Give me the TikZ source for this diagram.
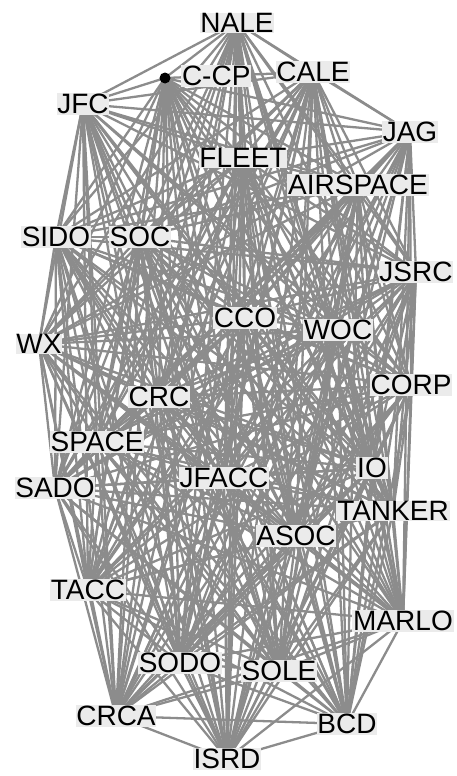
\documentclass[tikz,border=0pt]{standalone}
\usepackage{fontspec}
\setmainfont{Liberation Sans}
\pgfdeclarelayer{bg}
\pgfsetlayers{bg,main}
\definecolor{edgegray}{HTML}{8C8C8C}
\definecolor{labelbg}{HTML}{EBEBEB}
\tikzset{
  lbl/.style={fill=labelbg, inner sep=0.8pt, font=\fontsize{28}{30}\selectfont, text=black},
  edge/.style={draw=edgegray, line width=2.3pt},
  dotnode/.style={circle, fill=black, inner sep=0pt, minimum size=11pt}
}
\begin{document}
\begin{tikzpicture}[x=1pt,y=-1pt]
\useasboundingbox (0,0) rectangle (457,776);
\node[lbl] (NALE) at (237,23) {NALE};
\node[dotnode] (CCP) at (165,78) {};
\node[lbl, anchor=west] (CCPl) at (181,76) {C-CP};
\node[lbl] (CALE) at (313,72) {CALE};
\node[lbl] (JFC) at (83,104) {JFC};
\node[lbl] (JAG) at (410,132) {JAG};
\node[lbl] (FLEET) at (243,158) {FLEET};
\node[lbl] (AIRSPACE) at (358,185) {AIRSPACE};
\node[lbl] (SIDO) at (56,237) {SIDO};
\node[lbl] (SOC) at (140,237) {SOC};
\node[lbl] (JSRC) at (416,272) {JSRC};
\node[lbl] (CCO) at (245,318) {CCO};
\node[lbl] (WOC) at (338,330) {WOC};
\node[lbl] (WX) at (39,344) {WX};
\node[lbl] (CORP) at (411,385) {CORP};
\node[lbl] (CRC) at (159,397) {CRC};
\node[lbl] (SPACE) at (97,442) {SPACE};
\node[lbl] (IO) at (372,468) {IO};
\node[lbl] (JFACC) at (224,478) {JFACC};
\node[lbl] (SADO) at (55,488) {SADO};
\node[lbl] (TANKER) at (393,511) {TANKER};
\node[lbl] (ASOC) at (296,536) {ASOC};
\node[lbl] (TACC) at (88,590) {TACC};
\node[lbl] (MARLO) at (403,621) {MARLO};
\node[lbl] (SODO) at (180,663) {SODO};
\node[lbl] (SOLE) at (279,671) {SOLE};
\node[lbl] (CRCA) at (116,716) {CRCA};
\node[lbl] (BCD) at (347,724) {BCD};
\node[lbl] (ISRD) at (227,759) {ISRD};
\begin{pgfonlayer}{bg}
\foreach \a [count=\i] in {NALE,CCP,CALE,JFC,JAG,FLEET,AIRSPACE,SIDO,SOC,JSRC,CCO,WOC,WX,CORP,CRC,SPACE,IO,JFACC,SADO,TANKER,ASOC,TACC,MARLO,SODO,SOLE,CRCA,BCD,ISRD} {
  \foreach \b [count=\j] in {NALE,CCP,CALE,JFC,JAG,FLEET,AIRSPACE,SIDO,SOC,JSRC,CCO,WOC,WX,CORP,CRC,SPACE,IO,JFACC,SADO,TANKER,ASOC,TACC,MARLO,SODO,SOLE,CRCA,BCD,ISRD} {
    \ifnum\j>\i
      \draw[edge] (\a.center) -- (\b.center);
    \fi
  }
}
\end{pgfonlayer}
\end{tikzpicture}
\end{document}
